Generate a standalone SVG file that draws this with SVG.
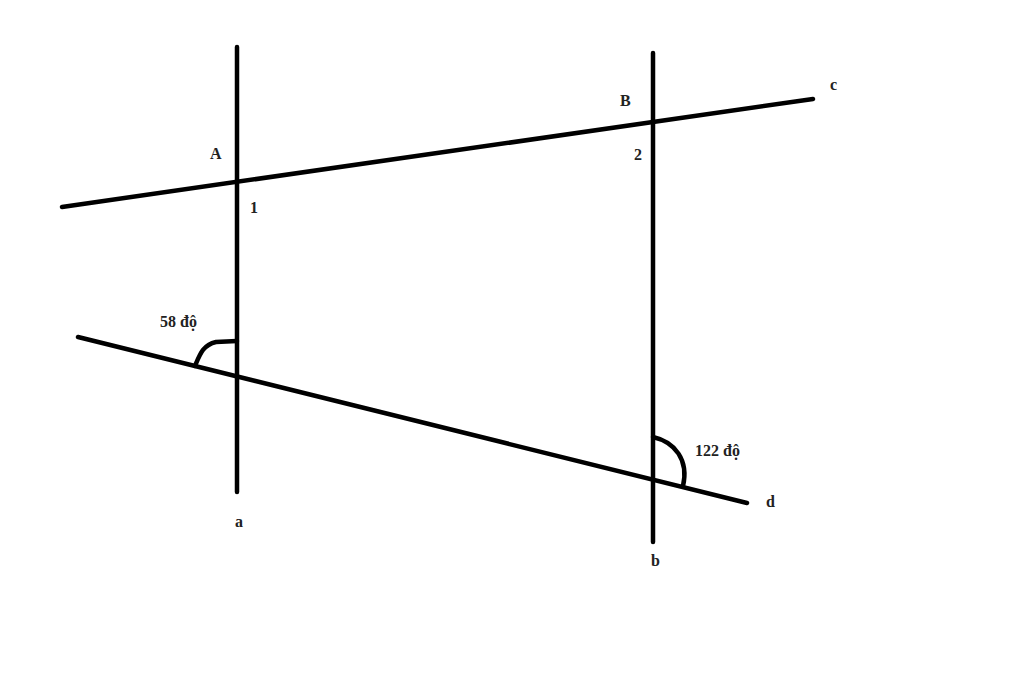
<svg xmlns="http://www.w3.org/2000/svg" width="1024" height="692" viewBox="0 0 1024 692">
<style>
.l{stroke:#000;stroke-width:4.5;fill:none;stroke-linecap:round}
.t{font-family:"Liberation Serif",serif;font-weight:bold;font-size:16px;fill:#222}
</style>
<rect width="1024" height="692" fill="#fff"/>
<g id="connectors">
<line class="l" x1="237" y1="47" x2="237" y2="492"/>
<line class="l" x1="653" y1="53" x2="653" y2="542"/>
<line class="l" x1="62" y1="207" x2="813" y2="99"/>
<line class="l" x1="78" y1="337" x2="747" y2="503"/>
<path class="l" d="M195,366 C200,354 203,345 216,342 L237,341"/>
<path class="l" d="M653,437 C675,442 689,460 683,486"/>
</g>
<g id="labels">
<text class="t" x="210" y="159">A</text>
<text class="t" x="250" y="213">1</text>
<text class="t" x="620" y="106">B</text>
<text class="t" x="634" y="160">2</text>
<text class="t" x="830" y="90">c</text>
<text class="t" x="766" y="507">d</text>
<text class="t" x="235" y="527">a</text>
<text class="t" x="651" y="566">b</text>
<text class="t" x="160" y="327">58 độ</text>
<text class="t" x="695" y="456">122 độ</text>
</g>
</svg>
